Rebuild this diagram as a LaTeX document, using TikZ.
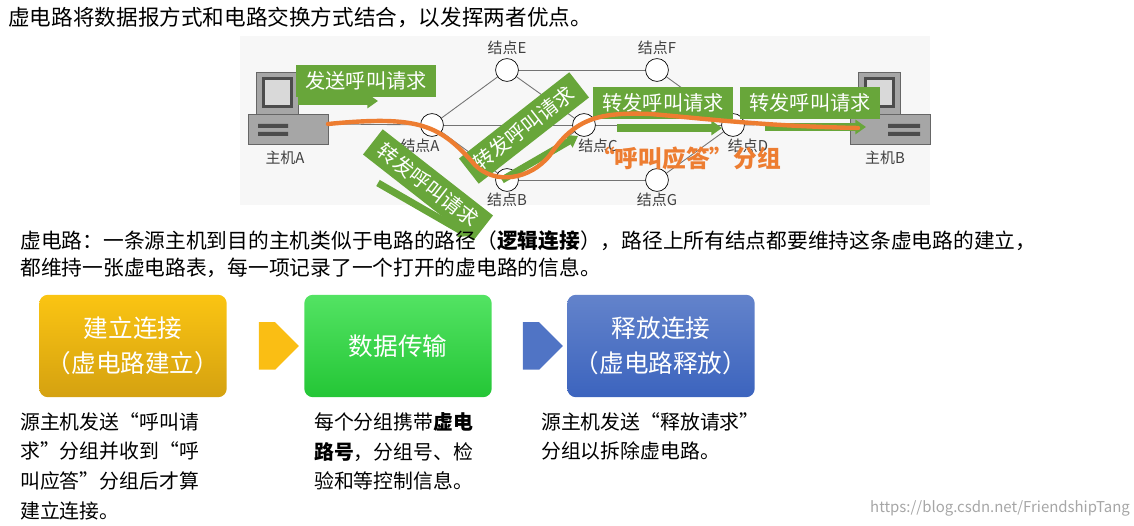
\documentclass[tikz,border=0pt]{standalone}
\usepackage{fontspec}
\setmainfont{Noto Sans CJK SC}
\usetikzlibrary{shapes.arrows,arrows.meta}
\definecolor{banner}{RGB}{104,166,58}
\definecolor{route}{RGB}{237,125,49}
\definecolor{boxorange}{RGB}{250,190,20}
\definecolor{boxgreen}{RGB}{40,220,60}
\definecolor{boxblue}{RGB}{60,100,190}
\tikzset{
  router/.style={circle, draw, fill=white, inner sep=0pt, minimum size=13pt},
  rlabel/.style={font=\fontsize{8.5}{9}\selectfont, text=black!75},
  banner/.style={fill=banner, text=white, inner sep=2pt, minimum width=2.8cm, minimum height=0.64cm, font=\fontsize{11.5}{12}\selectfont},
  flow/.style={draw=banner, line width=4pt, -{Triangle[length=6pt,width=8pt]}},
  phase/.style={rounded corners=5pt, minimum width=3.75cm, minimum height=2.05cm, text=white, align=center, font=\fontsize{14}{20}\selectfont},
  note/.style={anchor=north west, align=left, font=\fontsize{11.3}{17}\selectfont},
  host/.style={fill=black!35, draw=black!60},
}
\begin{document}
\begin{tikzpicture}[x=0.02cm, y=-0.02cm]
  \useasboundingbox (0,0) rectangle (1134,526);

  % intro line
  \node[anchor=west, inner sep=0pt, font=\fontsize{12.3}{13}\selectfont] (intro) at (8,17) {虚电路将数据报方式和电路交换方式结合，以发挥两者优点。};

  % network background
  \fill[black!3] (240,36) rectangle (930,205);

  % the hosts
  \begin{scope}[shift={(248,72)}]
    \filldraw[host] (8,0) rectangle (50,42);
    \fill[black!70] (14,5) rectangle (45,36);
    \fill[black!15] (17,8) rectangle (42,33);
    \filldraw[host] (0,42) rectangle (80,72);
    \fill[black!70] (10,52) rectangle (40,56) (10,60) rectangle (40,64);
  \end{scope}
  \begin{scope}[shift={(848,72)}]
    \filldraw[host] (10,0) rectangle (52,42);
    \fill[black!70] (16,5) rectangle (47,36);
    \fill[black!15] (19,8) rectangle (44,33);
    \filldraw[host] (2,42) rectangle (82,72);
    \fill[black!70] (40,52) rectangle (72,56) (40,60) rectangle (72,64);
  \end{scope}
  \coordinate (hA) at (328,124);
  \coordinate (hB) at (850,124);
  \node[rlabel] (labhA) at (285,158) {主机A};
  \node[rlabel] (labhB) at (885,158) {主机B};

  % the links
  \coordinate (A) at (432,125);
  \coordinate (E) at (507,70);
  \coordinate (F) at (657,70);
  \coordinate (C) at (584,125);
  \coordinate (D) at (733,125);
  \coordinate (B) at (507,180);
  \coordinate (G) at (657,180);
  \begin{scope}[draw=black!55, line width=0.5pt]
    \draw (hA) -- (A);
    \draw (A) -- (E);
    \draw (A) -- (B);
    \draw (E) -- (F);
    \draw (E) -- (C);
    \draw (F) -- (D);
    \draw (A) -- (C);
    \draw (B) -- (C);
    \draw (B) -- (G);
    \draw (G) -- (D);
    \draw (C) -- (D);
    \draw (D) -- (hB);
  \end{scope}

  % the routers
  \foreach \r in {A,B,C,D,E,F,G}
    \node[router] (n\r) at (\r) {};
  \node[rlabel] (labA) at (420,146) {结点A};
  \node[rlabel] (labE) at (507,48) {结点E};
  \node[rlabel] (labF) at (657,48) {结点F};
  \node[rlabel] (labC) at (598,146) {结点C};
  \node[rlabel] (labD) at (748,146) {结点D};
  \node[rlabel] (labB) at (507,200) {结点B};
  \node[rlabel] (labG) at (657,200) {结点G};

  % the call request banners and their arrows
  \node[banner] (req1) at (366,81) {发送呼叫请求};
  \draw[flow] (298,101) -- (378,101);
  \draw[flow] (378,183) -- (470,236);
  \node[banner, rotate=-38] (req2) at (428,185) {转发呼叫请求};
  \draw[flow] (502,180) -- (578,136);
  \node[banner, rotate=38] (req3) at (524,128) {转发呼叫请求};
  \node[banner] (req4) at (663,103) {转发呼叫请求};
  \draw[flow] (617,128) -- (722,128);
  \node[banner] (req5) at (810,103) {转发呼叫请求};
  \draw[flow] (765,127) -- (866,127);

  % the route of the virtual circuit
  \draw[route, line width=2.5pt, line cap=round] (hA) .. controls (420,115) and (440,125) .. (475,165)
    .. controls (495,185) and (530,180) .. (550,155)
    .. controls (575,118) and (600,112) .. (650,114)
    .. controls (700,118) and (760,126) .. (858,128);
  \node[text=route, font=\fontsize{13.5}{14}\bfseries] (answer) at (686,158) {“呼叫应答”分组};

  % definition text
  \node[anchor=west, inner sep=0pt, font=\fontsize{11.8}{12}\selectfont] (def1) at (20,241) {虚电路：一条源主机到目的主机类似于电路的路径（\textbf{逻辑连接}），路径上所有结点都要维持这条虚电路的建立，};
  \node[anchor=west, inner sep=0pt, font=\fontsize{11.8}{12}\selectfont] (def2) at (20,268) {都维持一张虚电路表，每一项记录了一个打开的虚电路的信息。};

  % the three phases
  \node[phase, top color=boxorange!90!yellow, bottom color=boxorange!85!black] (setup) at (133,346) {建立连接\\（虚电路建立）};
  \node[phase, top color=boxgreen!80!white, bottom color=boxgreen!90!black] (data) at (398,346) {数据传输};
  \node[phase, top color=boxblue!80!white, bottom color=boxblue] (release) at (661,346) {释放连接\\（虚电路释放）};
  \node[single arrow, fill=boxorange, minimum height=0.8cm, minimum width=0.95cm, single arrow head extend=0pt, inner sep=0pt] (ar1) at (267,346) {};
  \node[single arrow, fill=boxblue!90, minimum height=0.8cm, minimum width=0.95cm, single arrow head extend=0pt, inner sep=0pt] (ar2) at (531,346) {};

  % notes under the phases
  \node[note] (n1) at (14,406) {源主机发送“呼叫请\\求”分组并收到“呼\\叫应答”分组后才算\\建立连接。};
  \node[note] (n2) at (308,406) {每个分组携带\textbf{虚电}\\\textbf{路号}，分组号、检\\验和等控制信息。};
  \node[note] (n3) at (535,406) {源主机发送“释放请求”\\分组以拆除虚电路。};

  % watermark
  \node[text=black!35, font=\fontsize{8.5}{9}\selectfont] (mark) at (1000,508) {https://blog.csdn.net/FriendshipTang};
\end{tikzpicture}
\end{document}
